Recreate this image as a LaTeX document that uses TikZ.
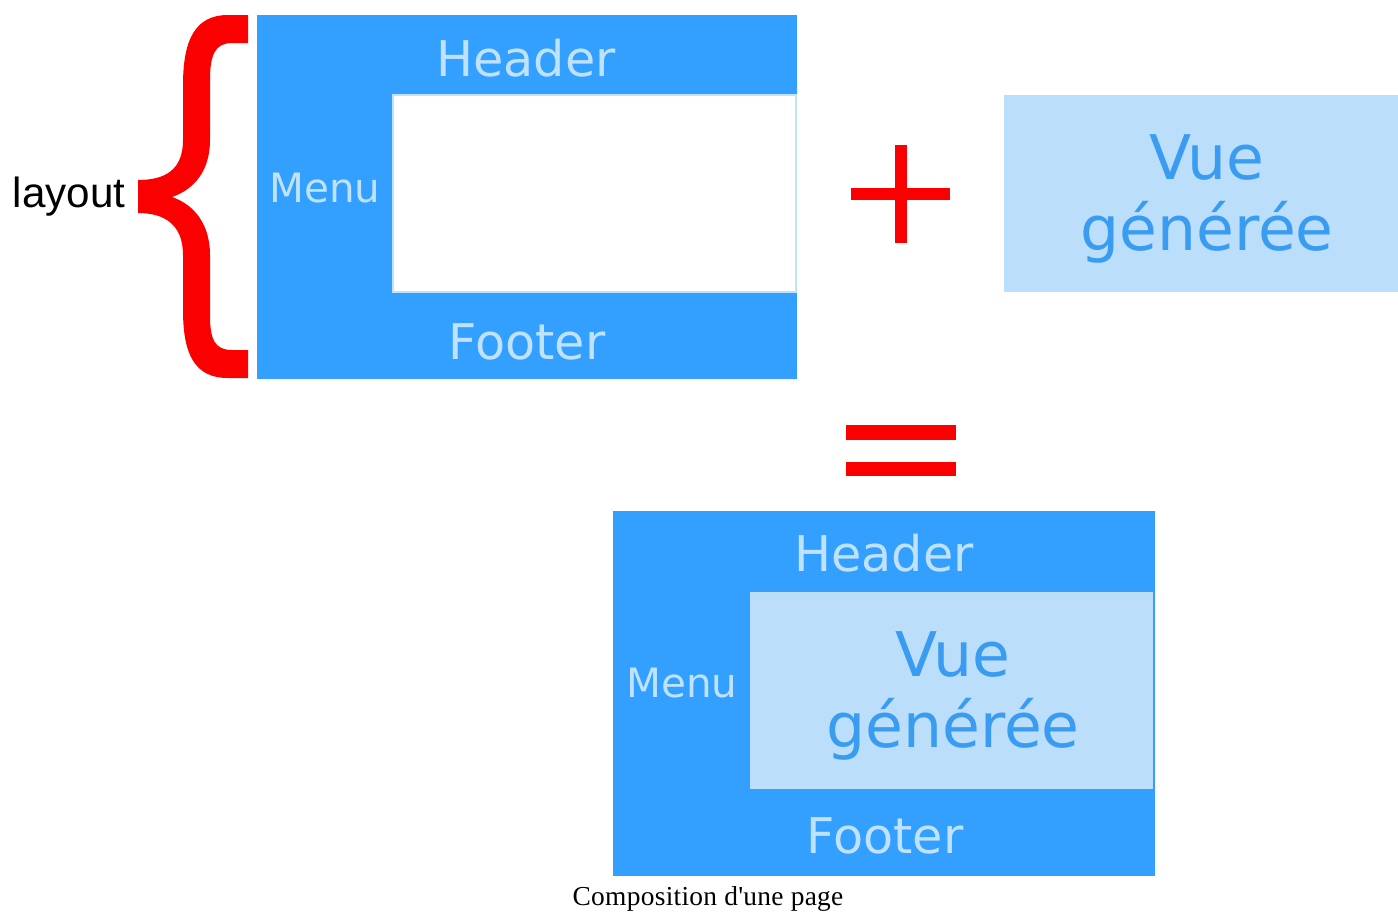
\documentclass[tikz,border=0pt]{standalone}
\usepackage{fontspec}
\usepackage{xcolor}
\usepackage{tikz}
\usetikzlibrary{positioning}
\setmainfont{Liberation Serif}
\newfontfamily\dejavu{DejaVu Sans}
\newfontfamily\arial{Liberation Sans}
\newfontfamily\capfont[LetterSpace=1]{Liberation Serif}

\definecolor{bleu}{RGB}{51,159,255}
\definecolor{bleuclair}{RGB}{187,222,250}
\definecolor{pale}{RGB}{190,226,255}
\definecolor{bleuvue}{RGB}{58,156,240}
\definecolor{rouge}{RGB}{250,0,0}

\tikzset{
  zone/.style={text=pale, font=\dejavu\fontsize{14}{16}\selectfont},
  menu/.style={text=pale, font=\dejavu\fontsize{11.5}{13}\selectfont},
  vue/.style={text=bleuvue, align=center, font=\dejavu\fontsize{17.5}{20}\selectfont}
}

\begin{document}
\begin{tikzpicture}[x=0.01cm, y=-0.01cm]
    \useasboundingbox (0,0) rectangle (1398,912);

    % Layout vide
    \fill[bleu] (257,15) rectangle (797,379);
    \fill[white, draw=pale, line width=0.4pt] (393,95) rectangle (796,292);
    \node[zone] (header1) at (526,58) {Header};
    \node[menu] (menu1) at (325,188) {Menu};
    \node[zone] (footer1) at (527,342) {Footer};

    % Accolade et texte layout
    \fill[rouge] (248,15) -- (228,15) .. controls (195,15) and (183,40) .. (183,85)
        -- (183,140) .. controls (183,170) and (165,180) .. (138,180)
        -- (138,213) .. controls (165,213) and (183,225) .. (183,255)
        -- (183,310) .. controls (183,355) and (195,378) .. (228,378)
        -- (248,378) -- (248,350) -- (232,350) .. controls (215,350) and (210,340) .. (210,315)
        -- (210,255) .. controls (210,225) and (195,205) .. (172,197)
        .. controls (195,189) and (210,170) .. (210,140)
        -- (210,80) .. controls (210,55) and (215,43) .. (232,43) -- (248,43) -- cycle;
    \node[font=\arial\fontsize{12}{14}\selectfont] (layout) at (69,197) {layout};

    % Signe plus
    \fill[rouge] (851,188) rectangle (950,200);
    \fill[rouge] (895,145) rectangle (907,243);

    % Vue seule
    \fill[bleuclair] (1004,95) rectangle (1398,292);
    \node[vue] (vue1) at (1207,199) {Vue\\générée};

    % Signe egal
    \fill[rouge] (846,425) rectangle (956,440);
    \fill[rouge] (846,462) rectangle (956,476);

    % Page composee
    \fill[bleu] (613,511) rectangle (1155,876);
    \fill[bleuclair] (750,592) rectangle (1153,789);
    \node[zone] (header2) at (884,553) {Header};
    \node[menu] (menu2) at (682,683) {Menu};
    \node[vue] (vue2) at (953,696) {Vue\\générée};
    \node[zone] (footer2) at (885,836) {Footer};

    % Legende
    \node[font=\capfont\fontsize{7.8}{10}\selectfont] (legende) at (708,899) {Composition d'une page};
\end{tikzpicture}
\end{document}
